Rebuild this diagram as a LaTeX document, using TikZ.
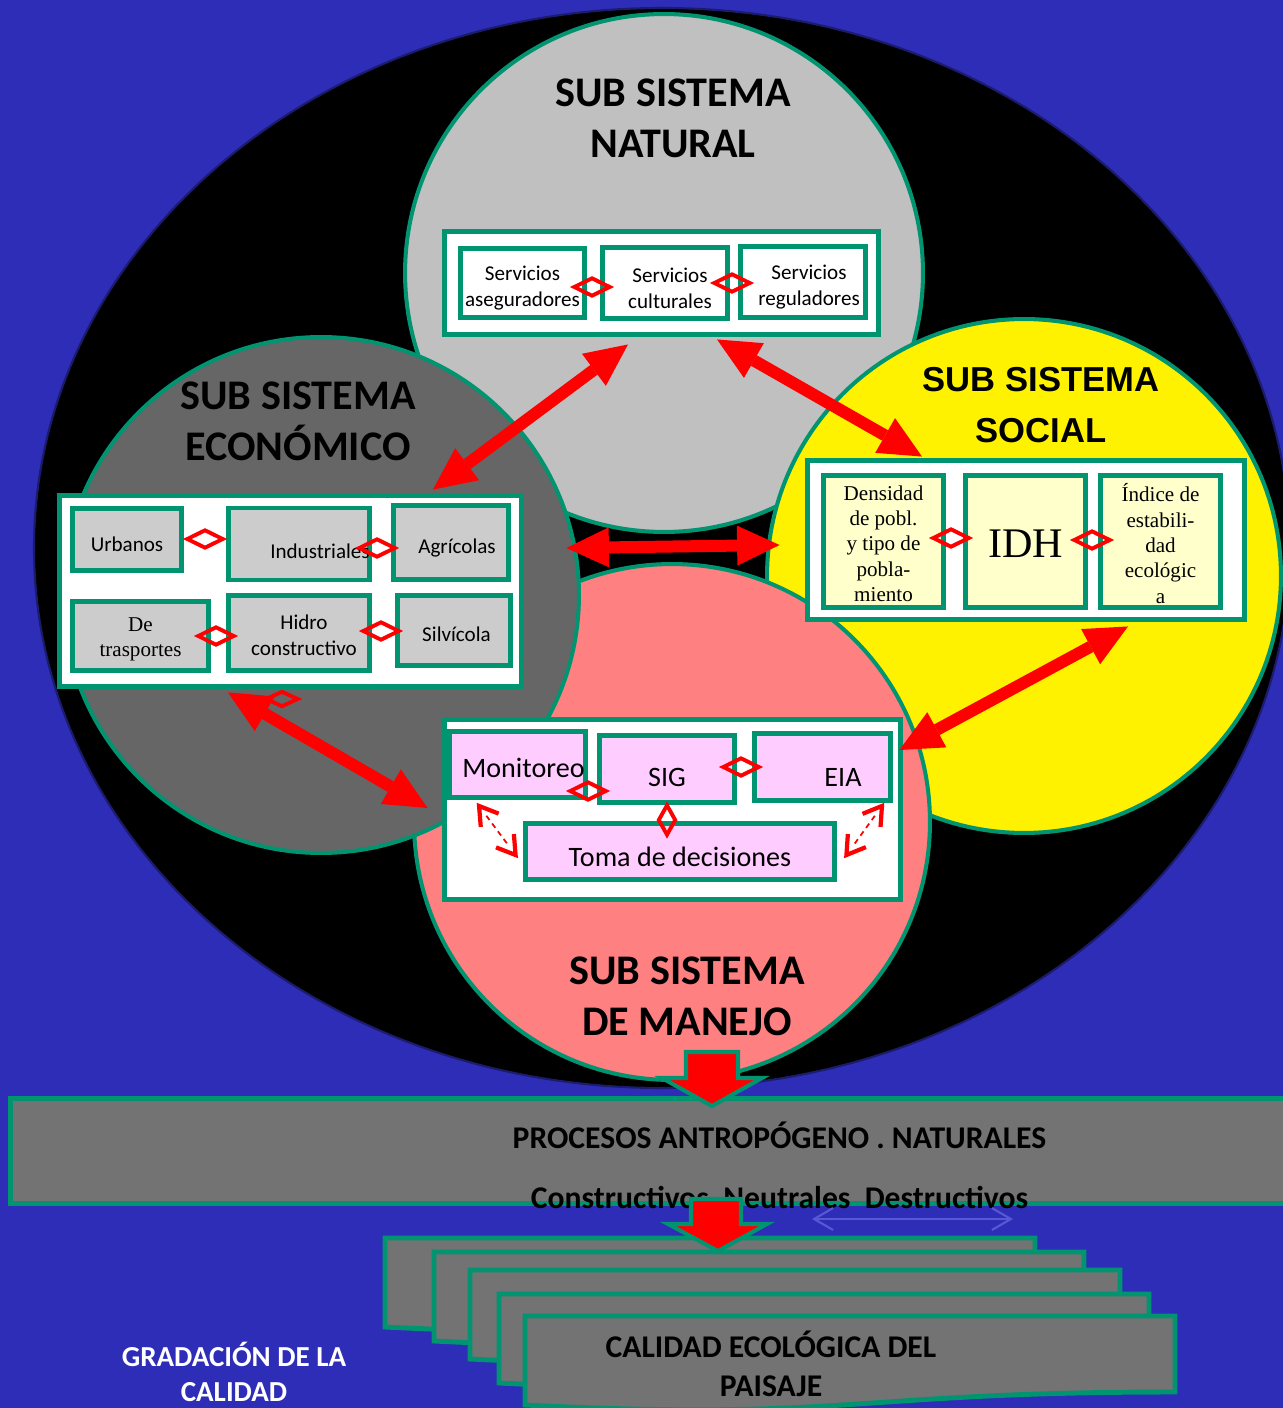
\documentclass[tikz,border=0pt]{standalone}
\usepackage{fontspec}
\setmainfont{Carlito}
\newfontfamily\arialfont{Liberation Sans}
\newfontfamily\timesfont{Liberation Serif}
\usetikzlibrary{arrows.meta,shapes.geometric,calc}

\definecolor{bgblue}{RGB}{46,45,183}
\definecolor{rimnavy}{RGB}{28,28,110}
\definecolor{grn}{RGB}{0,148,112}
\definecolor{natgray}{RGB}{192,192,192}
\definecolor{ecogray}{RGB}{102,102,102}
\definecolor{salmon}{RGB}{255,128,128}
\definecolor{itemgray}{RGB}{204,204,204}
\definecolor{itemyellow}{RGB}{255,255,204}
\definecolor{itempink}{RGB}{255,204,255}
\definecolor{docgray}{RGB}{115,115,115}
\definecolor{faintblue}{RGB}{88,88,212}

\begin{document}
\begin{tikzpicture}[x=0.02cm,y=-0.02cm,
  subsys/.style={circle, draw=grn, line width=2.3pt, inner sep=0},
  title/.style={font=\bfseries\fontsize{24}{29}\selectfont, align=center, text=black},
  panel/.style={rectangle, draw=grn, fill=white, line width=2.8pt, inner sep=0},
  item/.style={rectangle, draw=grn, line width=2.8pt, inner sep=0},
  natitem/.style={item, fill=white},
  ecoitem/.style={item, fill=itemgray},
  socitem/.style={item, fill=itemyellow},
  manitem/.style={item, fill=itempink},
  itemtext/.style={align=center, inner sep=0, font=\fontsize{12}{14.7}\selectfont},
  itemserif/.style={align=center, inner sep=0, font=\timesfont\fontsize{12}{14.4}\selectfont},
  itembig/.style={align=center, inner sep=0, font=\fontsize{16}{19}\selectfont},
  link/.style={diamond, draw=red, line width=2.2pt, inner sep=0,
    minimum width=0.74cm, minimum height=0.38cm},
  vlink/.style={link, minimum width=0.36cm, minimum height=0.62cm},
  flow/.style={draw=red, line width=0.24cm,
    {Triangle[length=0.85cm,width=0.8cm,line width=0pt]}-{Triangle[length=0.85cm,width=0.8cm,line width=0pt]}},
  shaft/.style={draw=red, line width=1pt, dash pattern=on 3pt off 2.5pt},
  chev/.style={draw=red, line width=2.4pt, line join=miter},
  blockarrow/.style={fill=red, draw=grn, line width=2.3pt, line join=miter},
  doc/.style={fill=docgray, draw=grn, line width=2.8pt},
  bigtxt/.style={font=\bfseries\fontsize{18}{22}\selectfont, align=center}
]
\useasboundingbox (0,0) rectangle (1283,1408);
\fill[bgblue] (0,0) rectangle (1283,1408);

% outer system
\draw[fill=black, draw=rimnavy, line width=1.2pt] (662,548) ellipse [x radius=628, y radius=540];

% the four subsystems
\node[subsys, fill=natgray, minimum size=10.36cm] (cnat) at (664,273) {};
\node[subsys, fill=yellow, minimum size=10.28cm] (csoc) at (1024,576) {};
\node[subsys, fill=salmon, minimum size=10.32cm] (cman) at (672,822) {};
\node[subsys, fill=ecogray, minimum size=10.32cm] (ceco) at (321,595) {};

\node[title] (tnat) at (673,118.5) {SUB SISTEMA\\NATURAL};
\node[title] (teco) at (298,421) {SUB SISTEMA\\ECONÓMICO};
\node[title, font=\arialfont\bfseries\fontsize{19.7}{29}\selectfont] (tsoc) at (1041,405.5) {SUB SISTEMA\\SOCIAL};
\node[title] (tman) at (687,996.5) {SUB SISTEMA\\DE MANEJO};

% natural subsystem
\node[panel, minimum width=8.68cm, minimum height=2.06cm] (nat) at (661.5,283) {};
\node[natitem, minimum width=2.48cm, minimum height=1.38cm,
  label={[itemtext, yshift=-0.1cm]center:{Servicios\\aseguradores}}] (sa) at (522.5,283) {};
\node[natitem, minimum width=2.5cm, minimum height=1.42cm,
  label={[itemtext, xshift=0.1cm, yshift=-0.1cm]center:{Servicios\\culturales}}] (sc) at (665,283) {};
\node[natitem, minimum width=2.5cm, minimum height=1.42cm,
  label={[itemtext, xshift=0.12cm, yshift=-0.1cm]center:{Servicios\\reguladores}}] (sr) at (803,282) {};
\node[link] (l-sa-sc) at (592,287) {};
\node[link] (l-sc-sr) at (732,283) {};

% economic subsystem
\node[panel, minimum width=9.24cm, minimum height=3.82cm] (eco) at (290.5,591) {};
\node[ecoitem, minimum width=2.18cm, minimum height=1.24cm,
  label={[itemtext, yshift=-0.1cm]center:Urbanos}] (urb) at (127,539.5) {};
\node[ecoitem, minimum width=2.82cm, minimum height=1.44cm,
  label={[itemtext, xshift=0.42cm, yshift=-0.14cm]center:Industriales}] (ind) at (299,544) {};
\node[ecoitem, minimum width=2.3cm, minimum height=1.48cm,
  label={[itemtext, xshift=0.12cm, yshift=-0.1cm]center:Agrícolas}] (agr) at (451,542.5) {};
\node[ecoitem, minimum width=2.72cm, minimum height=1.38cm,
  label={[itemserif, yshift=-0.06cm]center:{De\\trasportes}}] (tra) at (140.5,636) {};
\node[ecoitem, minimum width=2.82cm, minimum height=1.5cm,
  label={[itemtext, xshift=0.1cm, yshift=-0.05cm]center:{Hidro\\constructivo}}] (hid) at (299,633) {};
\node[ecoitem, minimum width=2.26cm, minimum height=1.4cm,
  label={[itemtext, xshift=0.05cm, yshift=-0.08cm]center:Silvícola}] (sil) at (454,630.5) {};
\node[link] (l-urb-ind) at (205,539) {};
\node[link] (l-ind-agr) at (377,548) {};
\node[link] (l-tra-hid) at (216,636) {};
\node[link] (l-hid-sil) at (381,631) {};
\node[link, minimum width=0.66cm, minimum height=0.32cm] (l-eco) at (282,699) {};

% social subsystem
\node[panel, minimum width=8.74cm, minimum height=3.18cm] (soc) at (1026,540) {};
\node[socitem, minimum width=2.4cm, minimum height=2.64cm,
  label={[itemserif, yshift=-0.04cm]center:{Densidad\\de pobl.\\y tipo de\\pobla-\\miento}}] (den) at (883.5,541.5) {};
\node[socitem, minimum width=2.4cm, minimum height=2.64cm,
  label={[itemserif, font=\timesfont\fontsize{24}{28}\selectfont, yshift=-0.04cm]center:IDH}] (idh) at (1025.5,541.5) {};
\node[socitem, minimum width=2.4cm, minimum height=2.64cm,
  label={[itemserif, yshift=-0.04cm]center:{Índice de\\estabili-\\dad\\ecológic\\a}}] (ind2) at (1160.5,541.5) {};
\node[link] (l-den-idh) at (951,538) {};
\node[link] (l-idh-ind) at (1092,540) {};

% management subsystem
\node[panel, minimum width=9.12cm, minimum height=3.6cm] (man) at (672.5,809.5) {};
\node[manitem, minimum width=2.72cm, minimum height=1.32cm,
  label={[itembig, xshift=0.12cm, yshift=-0.07cm]center:Monitoreo}] (mon) at (517.5,764.5) {};
\node[manitem, minimum width=2.7cm, minimum height=1.34cm,
  label={[itembig, yshift=-0.16cm]center:SIG}] (sig) at (667,769) {};
\node[manitem, minimum width=2.72cm, minimum height=1.34cm,
  label={[itembig, xshift=0.41cm, yshift=-0.2cm]center:EIA}] (eia) at (822.5,767) {};
\node[manitem, minimum width=6.18cm, minimum height=1.12cm,
  label={[itembig, yshift=-0.1cm]center:Toma de decisiones}] (tom) at (680,851.5) {};
\node[link] (l-mon-sig) at (588,791) {};
\node[link] (l-sig-eia) at (741,767) {};
\node[vlink] (l-sig-tom) at (667,820) {};

% feedback between the tools and the decisions
\coordinate (fb1) at ($(mon.south west)+(32,6)$);
\coordinate (fb2) at ($(tom.west)+(-7.5,3.5)$);
\coordinate (fb3) at ($(eia.south east)+(-11,3)$);
\coordinate (fb4) at ($(tom.east)+(9.5,3.5)$);
\draw[shaft] ($(fb1)!0.2!(fb2)$) -- ($(fb1)!0.8!(fb2)$);
\draw[shaft] ($(fb3)!0.2!(fb4)$) -- ($(fb3)!0.8!(fb4)$);
\draw[chev] ($(fb1)!0.42cm!32:(fb2)$) -- (fb1) -- ($(fb1)!0.42cm!-32:(fb2)$);
\draw[chev] ($(fb2)!0.42cm!32:(fb1)$) -- (fb2) -- ($(fb2)!0.42cm!-32:(fb1)$);
\draw[chev] ($(fb3)!0.42cm!32:(fb4)$) -- (fb3) -- ($(fb3)!0.42cm!-32:(fb4)$);
\draw[chev] ($(fb4)!0.42cm!32:(fb3)$) -- (fb4) -- ($(fb4)!0.42cm!-32:(fb3)$);

% relations between subsystems
\draw[flow] ($(nat.south)+(-33.5,7.5)$) -- ($(eco.north)+(142.5,-3.5)$);
\draw[flow] ($(nat.south)+(55.5,2.5)$) -- ($(soc.north)+(-104,-1.5)$);
\draw[flow] ($(eco.east)+(42.5,-43)$) -- ($(soc.west)+(-25.5,5)$);
\draw[flow] ($(soc.south)+(102,4.5)$) -- ($(man.east)+(-3.5,-59.5)$);
\draw[flow] ($(eco.south)+(-62.5,3.5)$) -- ($(man.west)+(-14.5,-1.5)$);

% processes
\node[rectangle, draw=grn, fill=docgray, line width=3pt, inner sep=0,
  minimum width=25.69cm, minimum height=2.1cm] (proc) at (652.75,1151) {};
\node[bigtxt, font=\bfseries\fontsize{18}{34}\selectfont] (proctxt) at (779.5,1165)
  {PROCESOS ANTROPÓGENO . NATURALES\\Constructivos\ \ Neutrales\ \ Destructivos};

\coordinate (fa) at (812,1219);
\coordinate (fb) at (1013,1219);
\draw[faintblue, line width=1.2pt, {Straight Barb[length=0.38cm,width=0.44cm]}-{Straight Barb[length=0.38cm,width=0.44cm]}] (fa) -- (fb);

% stacked quality grades
\filldraw[doc] (385,1238) -- (1035,1238) -- (1035,1314) .. controls (710,1314) and (710,1343) .. (385,1327) -- cycle;
\filldraw[doc] (434,1252) -- (1084,1252) -- (1084,1328) .. controls (759,1328) and (759,1357) .. (434,1341) -- cycle;
\filldraw[doc] (470,1270) -- (1120,1270) -- (1120,1346) .. controls (795,1346) and (795,1375) .. (470,1359) -- cycle;
\filldraw[doc] (499,1294) -- (1149,1294) -- (1149,1370) .. controls (824,1370) and (824,1399) .. (499,1383) -- cycle;
\filldraw[doc] (525,1316) -- (1175,1316) -- (1175,1392) .. controls (850,1392) and (850,1421) .. (525,1405) -- cycle;

\node[bigtxt] (cal) at (771,1364) {CALIDAD ECOLÓGICA DEL\\PAISAJE};
\node[bigtxt, text=white, font=\bfseries\fontsize{16.5}{20}\selectfont] (grad) at (234,1372) {GRADACIÓN DE LA\\CALIDAD};

% block arrows into the processes and the grades
\draw[blockarrow] (686,1052) -- (738,1052) -- (738,1078) -- (762,1078) -- (712,1106) -- (662,1078) -- (686,1078) -- cycle;
\draw[blockarrow] (691,1199) -- (741,1199) -- (741,1224) -- (767,1224) -- (718,1251) -- (668,1224) -- (691,1224) -- cycle;
\end{tikzpicture}
\end{document}
